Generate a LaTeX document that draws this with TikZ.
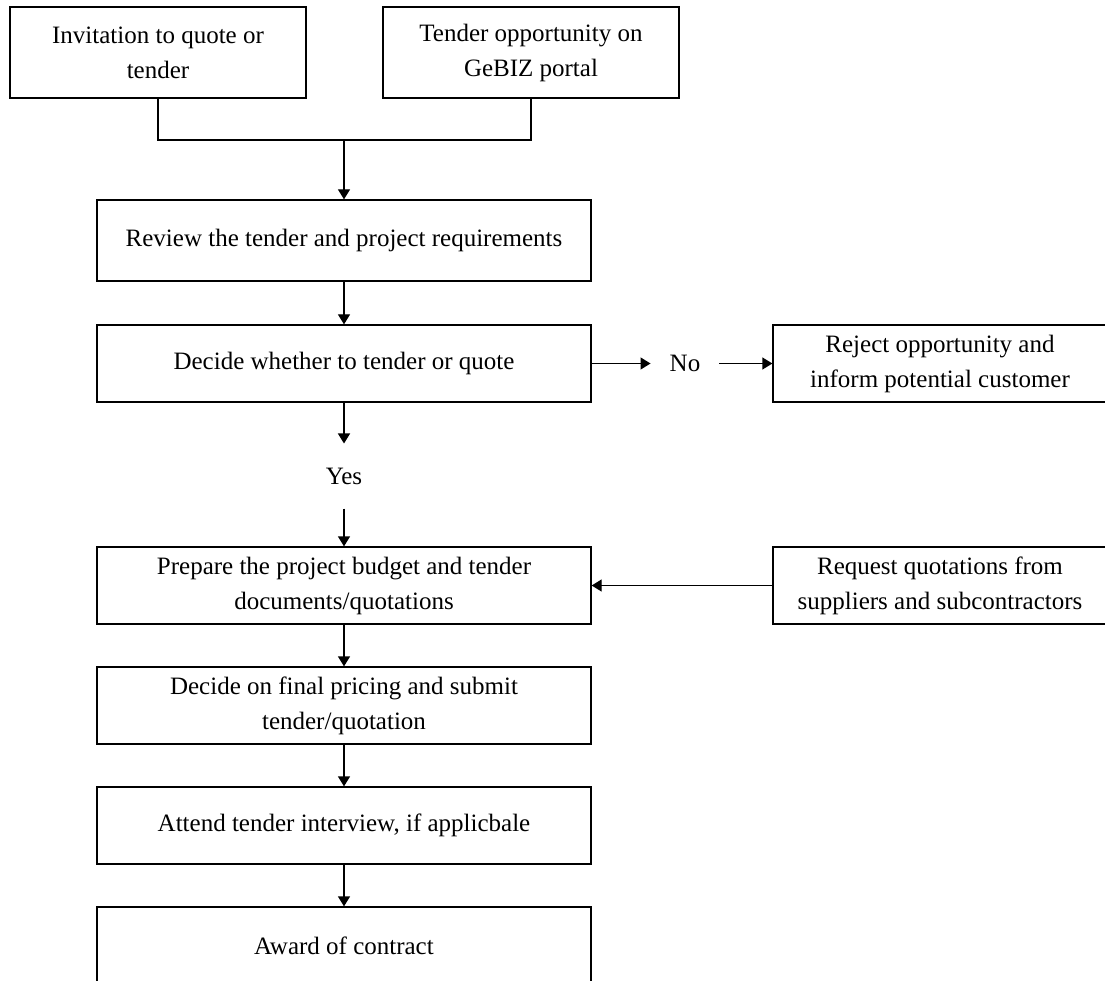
\documentclass[tikz,border=0pt]{standalone}
\usepackage{fontspec}
\setmainfont{Liberation Serif}
\usetikzlibrary{arrows.meta}

\begin{document}
\begin{tikzpicture}[x=1pt, y=-1pt,
		box/.style={draw, line width=1.3pt, align=center, font=\fontsize{25}{35}\selectfont, inner sep=0pt},
		lbl/.style={font=\fontsize{25}{35}\selectfont},
		arr/.style={-{Triangle[length=10pt, width=12pt]}, line width=1.3pt}]
		\useasboundingbox (0, 0) rectangle (1105, 981);
		\node[box, minimum width=296, minimum height=91] (invite) at (158, 52.5) {Invitation to quote or\\tender};
		\node[box, minimum width=296, minimum height=91] (gebiz) at (531, 52.5) {Tender opportunity on\\GeBIZ portal};
		\node[box, minimum width=494, minimum height=81] (review) at (344, 240.5) {Review the tender and project requirements};
		\node[box, minimum width=494, minimum height=77] (decide) at (344, 363.5) {Decide whether to tender or quote};
		\node[box, minimum width=334, minimum height=77] (reject) at (940, 363.5) {Reject opportunity and\\inform potential customer};
		\node[lbl, inner xsep=19pt] (no) at (685, 363.5) {No};
		\node[lbl, inner ysep=24pt] (yes) at (344, 476) {Yes};
		\node[box, minimum width=494, minimum height=77] (budget) at (344, 585.5) {Prepare the project budget and tender\\documents/quotations};
		\node[box, minimum width=334, minimum height=77] (request) at (940, 585.5) {Request quotations from\\suppliers and subcontractors};
		\node[box, minimum width=494, minimum height=77] (pricing) at (344, 705.5) {Decide on final pricing and submit\\tender/quotation};
		\node[box, minimum width=494, minimum height=77] (interview) at (344, 825.5) {Attend tender interview, if applicbale};
		\node[box, minimum width=494, minimum height=77] (award) at (344, 945.5) {Award of contract};

		% joining the two sources
		\coordinate (join) at (344, 140);
		\draw[line width=1.3pt] (invite.south) |- (join) -| (gebiz.south);
		\draw[arr] (join) -- (review);
		\draw[arr] (review) -- (decide);
		\draw[arr] (decide) -- (no);
		\draw[arr] (no) -- (reject);
		\draw[arr] (decide) -- (yes);
		\draw[arr] (yes) -- (budget);
		\draw[arr] (request) -- (budget);
		\draw[arr] (budget) -- (pricing);
		\draw[arr] (pricing) -- (interview);
		\draw[arr] (interview) -- (award);
	\end{tikzpicture}
\end{document}
